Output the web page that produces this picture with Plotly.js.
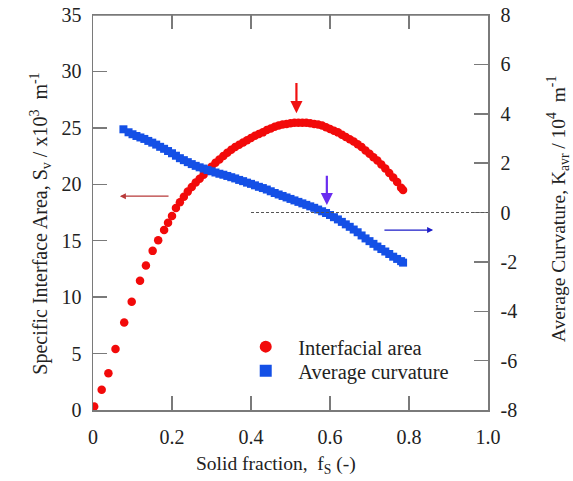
<!DOCTYPE html>
<html>
<head>
<meta charset="utf-8">
<script src="https://cdn.plot.ly/plotly-3.0.1.min.js"></script>
<style>html,body{margin:0;padding:0;background:#fff}#chart{width:573px;height:481px}</style>
</head>
<body>
<div id="chart"></div>
<script>
// Interfacial area (Sv, x10^3 m^-1) vs solid fraction
const areaFs = [0.003,0.022,0.039,0.057,0.079,0.098,0.119,0.134,0.151,0.165,0.180,
  0.19,0.20,0.21,0.22,0.23,0.24,0.25,0.26,0.27,0.28,0.29,0.30,0.31,0.32,0.33,0.34,0.35,0.36,0.37,0.38,0.39,
  0.40,0.41,0.42,0.43,0.44,0.45,0.46,0.47,0.48,0.49,0.50,0.51,0.52,0.53,0.54,0.55,0.56,0.57,0.58,0.59,
  0.60,0.61,0.62,0.63,0.64,0.65,0.66,0.67,0.68,0.69,0.70,0.71,0.72,0.73,0.74,0.75,0.76,0.77,0.78,0.785];
const areaSv = [0.3,1.8,3.25,5.4,7.75,9.6,11.45,12.8,14.1,15.05,15.95,
  16.6,17.2,17.9,18.4,18.9,19.35,19.75,20.15,20.5,20.85,21.2,21.55,21.9,22.2,22.5,22.8,23.05,23.3,23.5,23.7,23.9,
  24.1,24.3,24.45,24.6,24.8,24.95,25.1,25.2,25.3,25.35,25.4,25.45,25.45,25.45,25.45,25.4,25.35,25.3,25.2,25.05,
  24.9,24.75,24.6,24.4,24.2,24.0,23.8,23.55,23.3,23.0,22.7,22.4,22.1,21.75,21.4,21.0,20.6,20.2,19.7,19.5];

// Average curvature (K_avr, 10^4 m^-1) vs solid fraction
const curvFs = [0.077,0.09,0.10,0.11,0.12,0.13,0.14,0.15,0.16,0.17,0.18,0.19,0.20,0.21,0.22,0.23,0.24,0.25,0.26,0.27,
  0.28,0.29,0.30,0.31,0.32,0.33,0.34,0.35,0.36,0.37,0.38,0.39,0.40,0.41,0.42,0.43,0.44,0.45,0.46,0.47,0.48,0.49,
  0.50,0.51,0.52,0.53,0.54,0.55,0.56,0.57,0.58,0.59,0.60,0.61,0.62,0.63,0.64,0.65,0.66,0.67,0.68,0.69,
  0.70,0.71,0.72,0.73,0.74,0.75,0.76,0.77,0.78,0.785];
const curvK = [3.37,3.25,3.17,3.1,3.04,2.98,2.9,2.83,2.75,2.66,2.58,2.49,2.4,2.3,2.2,2.12,2.04,1.96,1.89,1.83,
  1.78,1.72,1.67,1.62,1.57,1.53,1.48,1.43,1.38,1.32,1.27,1.21,1.16,1.1,1.04,0.99,0.93,0.86,0.79,0.73,0.67,0.61,
  0.55,0.49,0.43,0.37,0.31,0.25,0.19,0.12,0.05,-0.02,-0.1,-0.19,-0.28,-0.38,-0.48,-0.58,-0.69,-0.8,-0.93,-1.05,
  -1.16,-1.27,-1.38,-1.48,-1.58,-1.68,-1.79,-1.88,-1.97,-2.03];

const xTickVals = [0,0.2,0.4,0.6,0.8,1.0];
const xTickText = ['0','0.2','0.4','0.6','0.8','1.0'];
const y2TickVals = [-8,-6,-4,-2,0,2,4,6,8];
const y2TickText = ['-8','-6','-4','-2','0','2','4','6','8'];
const seriesNames = ['Interfacial area','Average curvature'];
const titles = {
  x: 'Solid fraction,  f<sub>S</sub> (-)',
  y: 'Specific Interface Area, S<sub>v</sub> / x10<sup>3</sup>  m<sup>-1</sup>',
  y2: 'Average Curvature, K<sub>avr</sub> / 10<sup>4</sup>  m<sup>-1</sup>'
};

const serif = "'Liberation Serif', 'Times New Roman', serif";
const axisColor = '#7a7a7a';
const txt = '#222';
const tickFont = {family: serif, size: 20, color: txt};
const titleFont = {family: serif, size: 19.5, color: txt};
const legFont = {family: serif, size: 20.5, color: txt};

const traces = [
  {x: areaFs, y: areaSv, type: 'scatter', mode: 'markers', name: seriesNames[0], legend: 'legend',
   marker: {symbol: 'circle', size: 8.5, color: '#f20a0a'}, yaxis: 'y'},
  {x: curvFs, y: curvK, type: 'scatter', mode: 'markers', name: seriesNames[1], legend: 'legend2',
   marker: {symbol: 'square', size: 8, color: '#1450e6'}, yaxis: 'y2'}
];

const legendBase = {xanchor: 'left', yanchor: 'middle', bgcolor: 'rgba(0,0,0,0)',
  font: legFont, itemsizing: 'constant', itemwidth: 55};

const layout = {
  width: 573, height: 481,
  margin: {l: 93, r: 85, t: 15, b: 71},
  paper_bgcolor: '#fff', plot_bgcolor: '#fff',
  font: {family: serif, size: 20, color: txt},
  showlegend: true,
  legend: Object.assign({x: 0.355, y: 0.16}, legendBase),
  legend2: Object.assign({x: 0.355, y: 0.099}, legendBase),
  xaxis: {range: [0, 1], tickvals: xTickVals, ticktext: xTickText, ticks: 'inside', ticklen: 14,
    tickcolor: axisColor, tickwidth: 1.5, showline: true, linecolor: axisColor, linewidth: 1.5,
    mirror: 'ticks', showgrid: false, zeroline: false, ticklabelstandoff: 8,
    tickfont: tickFont},
  yaxis: {range: [0, 35], dtick: 5, ticks: 'inside', ticklen: 14, tickcolor: axisColor, tickwidth: 1.5,
    showline: true, linecolor: axisColor, linewidth: 1.5, showgrid: false, zeroline: false,
    ticklabelstandoff: 6, tickfont: tickFont},
  yaxis2: {range: [-8, 8], tickvals: y2TickVals, ticktext: y2TickText, overlaying: 'y', side: 'right',
    ticks: 'inside', ticklen: 14,
    tickcolor: axisColor, tickwidth: 1.5, showline: true, linecolor: axisColor, linewidth: 1.5,
    showgrid: false, zeroline: false, ticklabelstandoff: 7, tickfont: tickFont},
  shapes: [
    {type: 'line', xref: 'x', yref: 'y2', x0: 0.4, x1: 1.0, y0: 0, y1: 0,
     line: {color: '#555', width: 1, dash: '3px,2px'}},
    {type: 'line', xref: 'x', yref: 'paper', x0: 0, x1: 1, y0: 1, y1: 1,
     line: {color: axisColor, width: 1.5}}
  ],
  annotations: [
    {text: titles.x, xref: 'paper', yref: 'paper', x: 0.463, y: -0.139, xanchor: 'center', yanchor: 'middle',
     showarrow: false, font: titleFont},
    {text: titles.y, xref: 'paper', yref: 'paper', x: -0.134, y: 0.472, xanchor: 'center', yanchor: 'middle',
     textangle: -90, showarrow: false, font: {family: serif, size: 20, color: txt}},
    {text: titles.y2, xref: 'paper', yref: 'paper', x: 1.178, y: 0.509, xanchor: 'center', yanchor: 'middle',
     textangle: -90, showarrow: false, font: titleFont},
    {x: 0.515, y: 26.3, xref: 'x', yref: 'y', ax: 0.515, ay: 29.1, axref: 'x', ayref: 'y',
     showarrow: true, arrowhead: 2, arrowsize: 1.1, arrowwidth: 2.2, arrowcolor: '#f01010', text: ''},
    {x: 0.592, y: 0.3, xref: 'x', yref: 'y2', ax: 0.592, ay: 1.55, axref: 'x', ayref: 'y2',
     showarrow: true, arrowhead: 2, arrowsize: 1.1, arrowwidth: 2.2, arrowcolor: '#6a2cf0', text: ''},
    {x: 0.068, y: 18.95, xref: 'x', yref: 'y', ax: 0.195, ay: 18.95, axref: 'x', ayref: 'y',
     showarrow: true, arrowhead: 2, arrowsize: 1, arrowwidth: 1.2, arrowcolor: '#b83a3a', text: ''},
    {x: 0.861, y: -0.71, xref: 'x', yref: 'y2', ax: 0.734, ay: -0.71, axref: 'x', ayref: 'y2',
     showarrow: true, arrowhead: 2, arrowsize: 1, arrowwidth: 1.2, arrowcolor: '#1c1cc8', text: ''}
  ]
};

Plotly.newPlot('chart', traces, layout, {displayModeBar: false, staticPlot: true});
</script>
</body>
</html>
